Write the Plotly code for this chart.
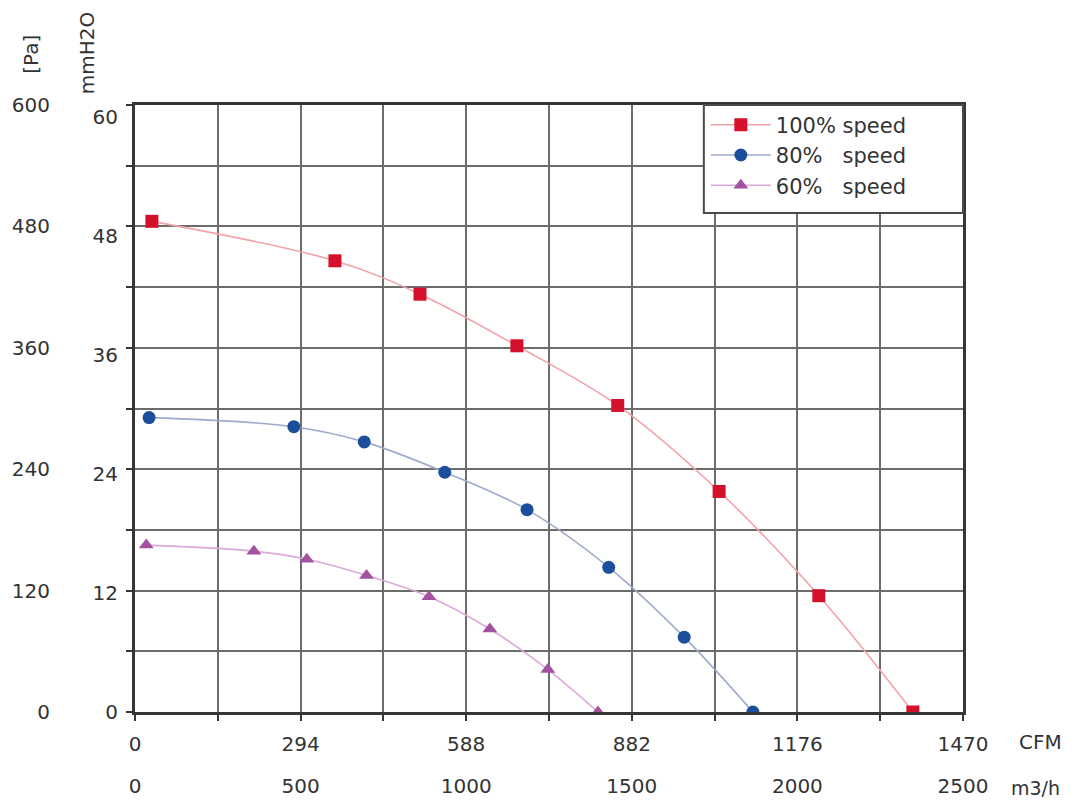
import plotly.graph_objects as go

# ---- data ----
cfm_ticks = [0, 294, 588, 882, 1176, 1470]
m3h_ticks = [0, 500, 1000, 1500, 2000, 2500]
pa_ticks = [0, 120, 240, 360, 480, 600]
mmh2o_ticks = [0, 12, 24, 36, 48, 60]

flow_100 = [30, 355, 506, 678, 857, 1037, 1214, 1381]
pres_100 = [485, 446, 413, 362, 303, 218, 115, 0]

flow_80 = [25, 282, 407, 550, 696, 841, 975, 1097]
pres_80 = [291, 282, 267, 237, 200, 143, 74, 0]

flow_60 = [20, 211, 305, 411, 522, 630, 733, 822]
pres_60 = [165, 159, 151, 135, 114, 82, 42, 0]

names = ["100%\u00a0speed", "80%\u00a0\u00a0\u00a0speed", "60%\u00a0\u00a0\u00a0speed"]

X_MAX = 1470
M3H_MAX = 2500
Y_MAX = 600
PA_PER_MMH2O = 9.80665

FONT = "DejaVu Sans"
TXT = "#333333"
GRID = "#6c6c6c"
FRAME = "#363636"

fig = go.Figure()

series = [
    (flow_100, pres_100, names[0], "#d5102a", "#f2a3a8", "square"),
    (flow_80, pres_80, names[1], "#1b4f9c", "#9eaacb", "circle"),
    (flow_60, pres_60, names[2], "#a3529f", "#dcaad8", "triangle-up"),
]
for i, (x, y, nm, mc, lc, sym) in enumerate(series):
    fig.add_trace(go.Scatter(
        x=x, y=y, name=nm, mode="lines+markers",
        line=dict(color=lc, width=1.6, shape="spline", smoothing=1.0),
        marker=dict(symbol=sym, size=13, color=mc),
        legendgroup=f"g{i}",
    ))

# invisible carriers so the secondary unit axes (m3/h, mmH2O) get drawn
fig.add_trace(go.Scatter(
    x=[0, M3H_MAX], y=[0, Y_MAX], xaxis="x2", yaxis="y",
    mode="markers", marker=dict(opacity=0), showlegend=False, hoverinfo="skip",
))
fig.add_trace(go.Scatter(
    x=[0, X_MAX], y=[0, Y_MAX / PA_PER_MMH2O], xaxis="x", yaxis="y2",
    mode="markers", marker=dict(opacity=0), showlegend=False, hoverinfo="skip",
))

# legend frame (white box over the grid)
fig.add_shape(type="rect", xref="paper", yref="paper",
              x0=0.687, x1=1.0, y0=0.822, y1=1.0,
              line=dict(color="#4a4a4a", width=2), fillcolor="white", layer="above")

# page body has an 8px margin; compensate so the plot area lands where it should
fig.update_layout(
    width=1061, height=790,
    margin=dict(l=127, r=106, t=97, b=86, autoexpand=False),
    paper_bgcolor="white", plot_bgcolor="white",
    font=dict(family=FONT, size=20, color=TXT),
    showlegend=True,
    legend=dict(
        x=0.687, y=1.004, xanchor="left", yanchor="top",
        bgcolor="rgba(0,0,0,0)", bordercolor="rgba(0,0,0,0)", borderwidth=2,
        font=dict(family=FONT, size=21, color=TXT),
        itemwidth=60, tracegroupgap=0,
    ),
    xaxis=dict(
        range=[0, X_MAX], tickvals=cfm_ticks, automargin=False,
        showgrid=True, gridcolor=GRID, gridwidth=1.6,
        showline=True, linecolor=FRAME, linewidth=3, mirror=True,
        ticks="outside", ticklen=6, tickwidth=1.5, tickcolor=FRAME,
        minor=dict(dtick=147, tick0=0, showgrid=True, gridcolor=GRID, gridwidth=1.6,
                   ticks="outside", ticklen=6, tickwidth=1.5, tickcolor=FRAME),
        zeroline=False, ticklabelstandoff=6,
        tickfont=dict(family=FONT, size=20, color=TXT),
    ),
    xaxis2=dict(
        overlaying="x", anchor="y", side="bottom", automargin=False,
        range=[0, M3H_MAX], tickvals=m3h_ticks,
        showgrid=False, showline=False, ticks="", zeroline=False,
        ticklabelstandoff=60,
        tickfont=dict(family=FONT, size=20, color=TXT),
    ),
    yaxis=dict(
        range=[0, Y_MAX], tickvals=pa_ticks, automargin=False,
        showgrid=True, gridcolor=GRID, gridwidth=1.6,
        showline=True, linecolor=FRAME, linewidth=3, mirror=True,
        ticks="outside", ticklen=6, tickwidth=1.5, tickcolor=FRAME,
        minor=dict(dtick=60, tick0=0, showgrid=True, gridcolor=GRID, gridwidth=1.6,
                   ticks="outside", ticklen=6, tickwidth=1.5, tickcolor=FRAME),
        zeroline=False, ticklabelstandoff=72,
        tickfont=dict(family=FONT, size=20, color=TXT),
    ),
    yaxis2=dict(
        overlaying="y", anchor="x", side="left", automargin=False,
        range=[0, Y_MAX / PA_PER_MMH2O], tickvals=mmh2o_ticks,
        showgrid=False, showline=False, ticks="", zeroline=False,
        ticklabelstandoff=16,
        tickfont=dict(family=FONT, size=20, color=TXT),
    ),
)

ann = dict(showarrow=False, xref="paper", yref="paper", xanchor="center", yanchor="middle",
           font=dict(family=FONT, size=20, color=TXT))
fig.add_annotation(text="[Pa]", x=-0.126, y=1.084, textangle=-90, **ann)
fig.add_annotation(text="mmH2O", x=-0.057, y=1.085, textangle=-90, **ann)
fig.add_annotation(text="CFM", x=1.094, y=-0.049, **ann)
fig.add_annotation(text="m3/h", x=1.088, y=-0.125, xanchor="center", yanchor="middle",
                   showarrow=False, xref="paper", yref="paper",
                   font=dict(family=FONT, size=19, color=TXT))

fig.write_html("out.html")
